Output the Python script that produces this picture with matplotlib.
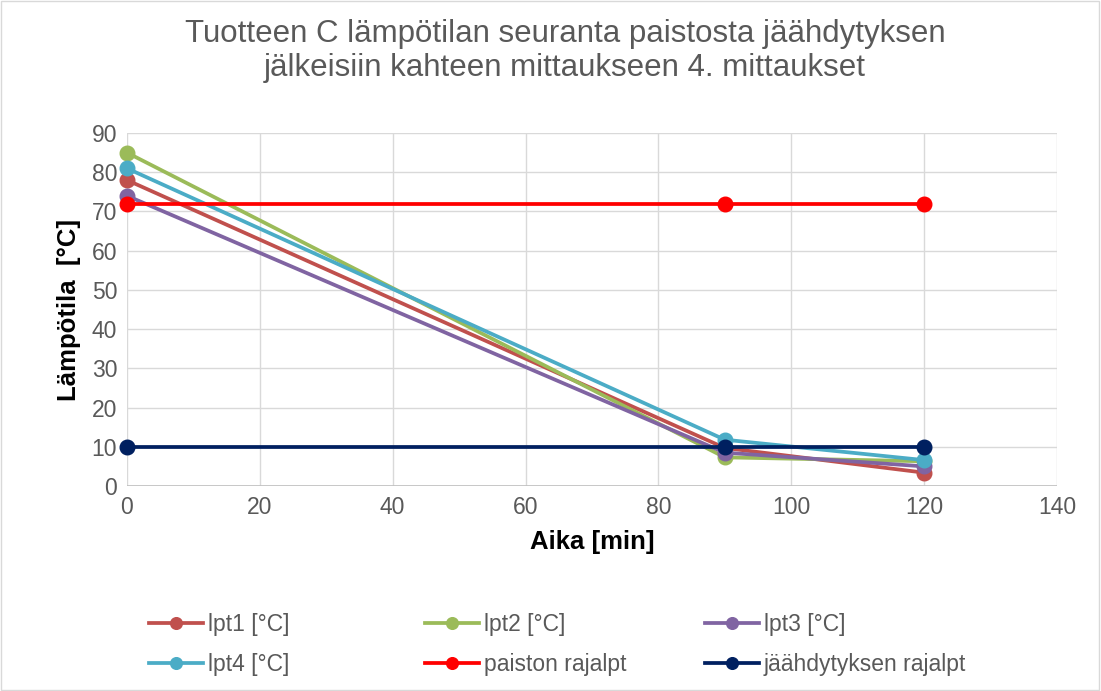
import matplotlib
matplotlib.use("Agg")
import matplotlib.pyplot as plt
from matplotlib.patches import Rectangle

plt.rcParams["font.family"] = ["Liberation Sans", "DejaVu Sans"]

# data
aika = [0, 90, 120]
lpt1 = [78, 9.7, 3.4]
lpt2 = [85, 7.3, 6.3]
lpt3 = [74, 8.5, 5.0]
lpt4 = [81, 11.8, 6.6]
paisto_raja = [72, 72, 72]
jaahdytys_raja = [10, 10, 10]

series = [
    ("lpt1 [°C]", lpt1, "#C0504D"),
    ("lpt2 [°C]", lpt2, "#9BBB59"),
    ("lpt3 [°C]", lpt3, "#8064A2"),
    ("lpt4 [°C]", lpt4, "#4BACC6"),
    ("paiston rajalpt", paisto_raja, "#FF0000"),
    ("jäähdytyksen rajalpt", jaahdytys_raja, "#002060"),
]

fig = plt.figure(figsize=(11.01, 6.91), dpi=100)
ax = fig.add_axes([0.1153, 0.2967, 0.8447, 0.5108])

lines = []
for name, vals, col in series:
    ln, = ax.plot(aika, vals, color=col, lw=2.7, marker="o", ms=10.5, label=name,
                  clip_on=False, zorder=3)
    lines.append(ln)

ax.set_xlim(0, 140)
ax.set_ylim(0, 90)
ax.set_xticks(range(0, 141, 20))
ax.set_yticks(range(0, 91, 10))
ax.grid(True, color="#d9d9d9", lw=1)
ax.set_axisbelow(True)
for s in ax.spines.values():
    s.set_visible(False)
ax.axhline(0, color="#bfbfbf", lw=1.2, zorder=1)
ax.tick_params(length=0, labelsize=16.5, labelcolor="#595959", pad=7)

ax.set_xlabel("Aika [min]", fontsize=18.5, fontweight="bold", labelpad=8)
ax.set_ylabel("Lämpötila  [°C]", fontsize=18.5, fontweight="bold", labelpad=8)

fig.text(0.513, 0.926, "Tuotteen C lämpötilan seuranta paistosta jäähdytyksen\n"
         "jälkeisiin kahteen mittaukseen 4. mittaukset",
         ha="center", va="center", fontsize=22.5, color="#595959", linespacing=1.2)

# legend: three fixed-width columns like the Excel one
cols = [(0, 3), (1, 4), (2, 5)]
xs = [149, 425, 705]
for (i, j), x0 in zip(cols, xs):
    leg = fig.legend([lines[i], lines[j]], [series[i][0], series[j][0]],
                     loc="upper left", bbox_to_anchor=(x0 / 1101, 1 - 613 / 691),
                     frameon=False, fontsize=16.5, handlelength=2.36,
                     handletextpad=0.2, labelspacing=0.75, borderpad=0,
                     borderaxespad=0, markerscale=0.8)
    for t in leg.get_texts():
        t.set_color("#595959")

fig.patches.append(Rectangle((0.001, 0.001), 0.997, 0.997, transform=fig.transFigure,
                             fill=False, ec="#d9d9d9", lw=1))

fig.savefig("out.png", dpi=100)
